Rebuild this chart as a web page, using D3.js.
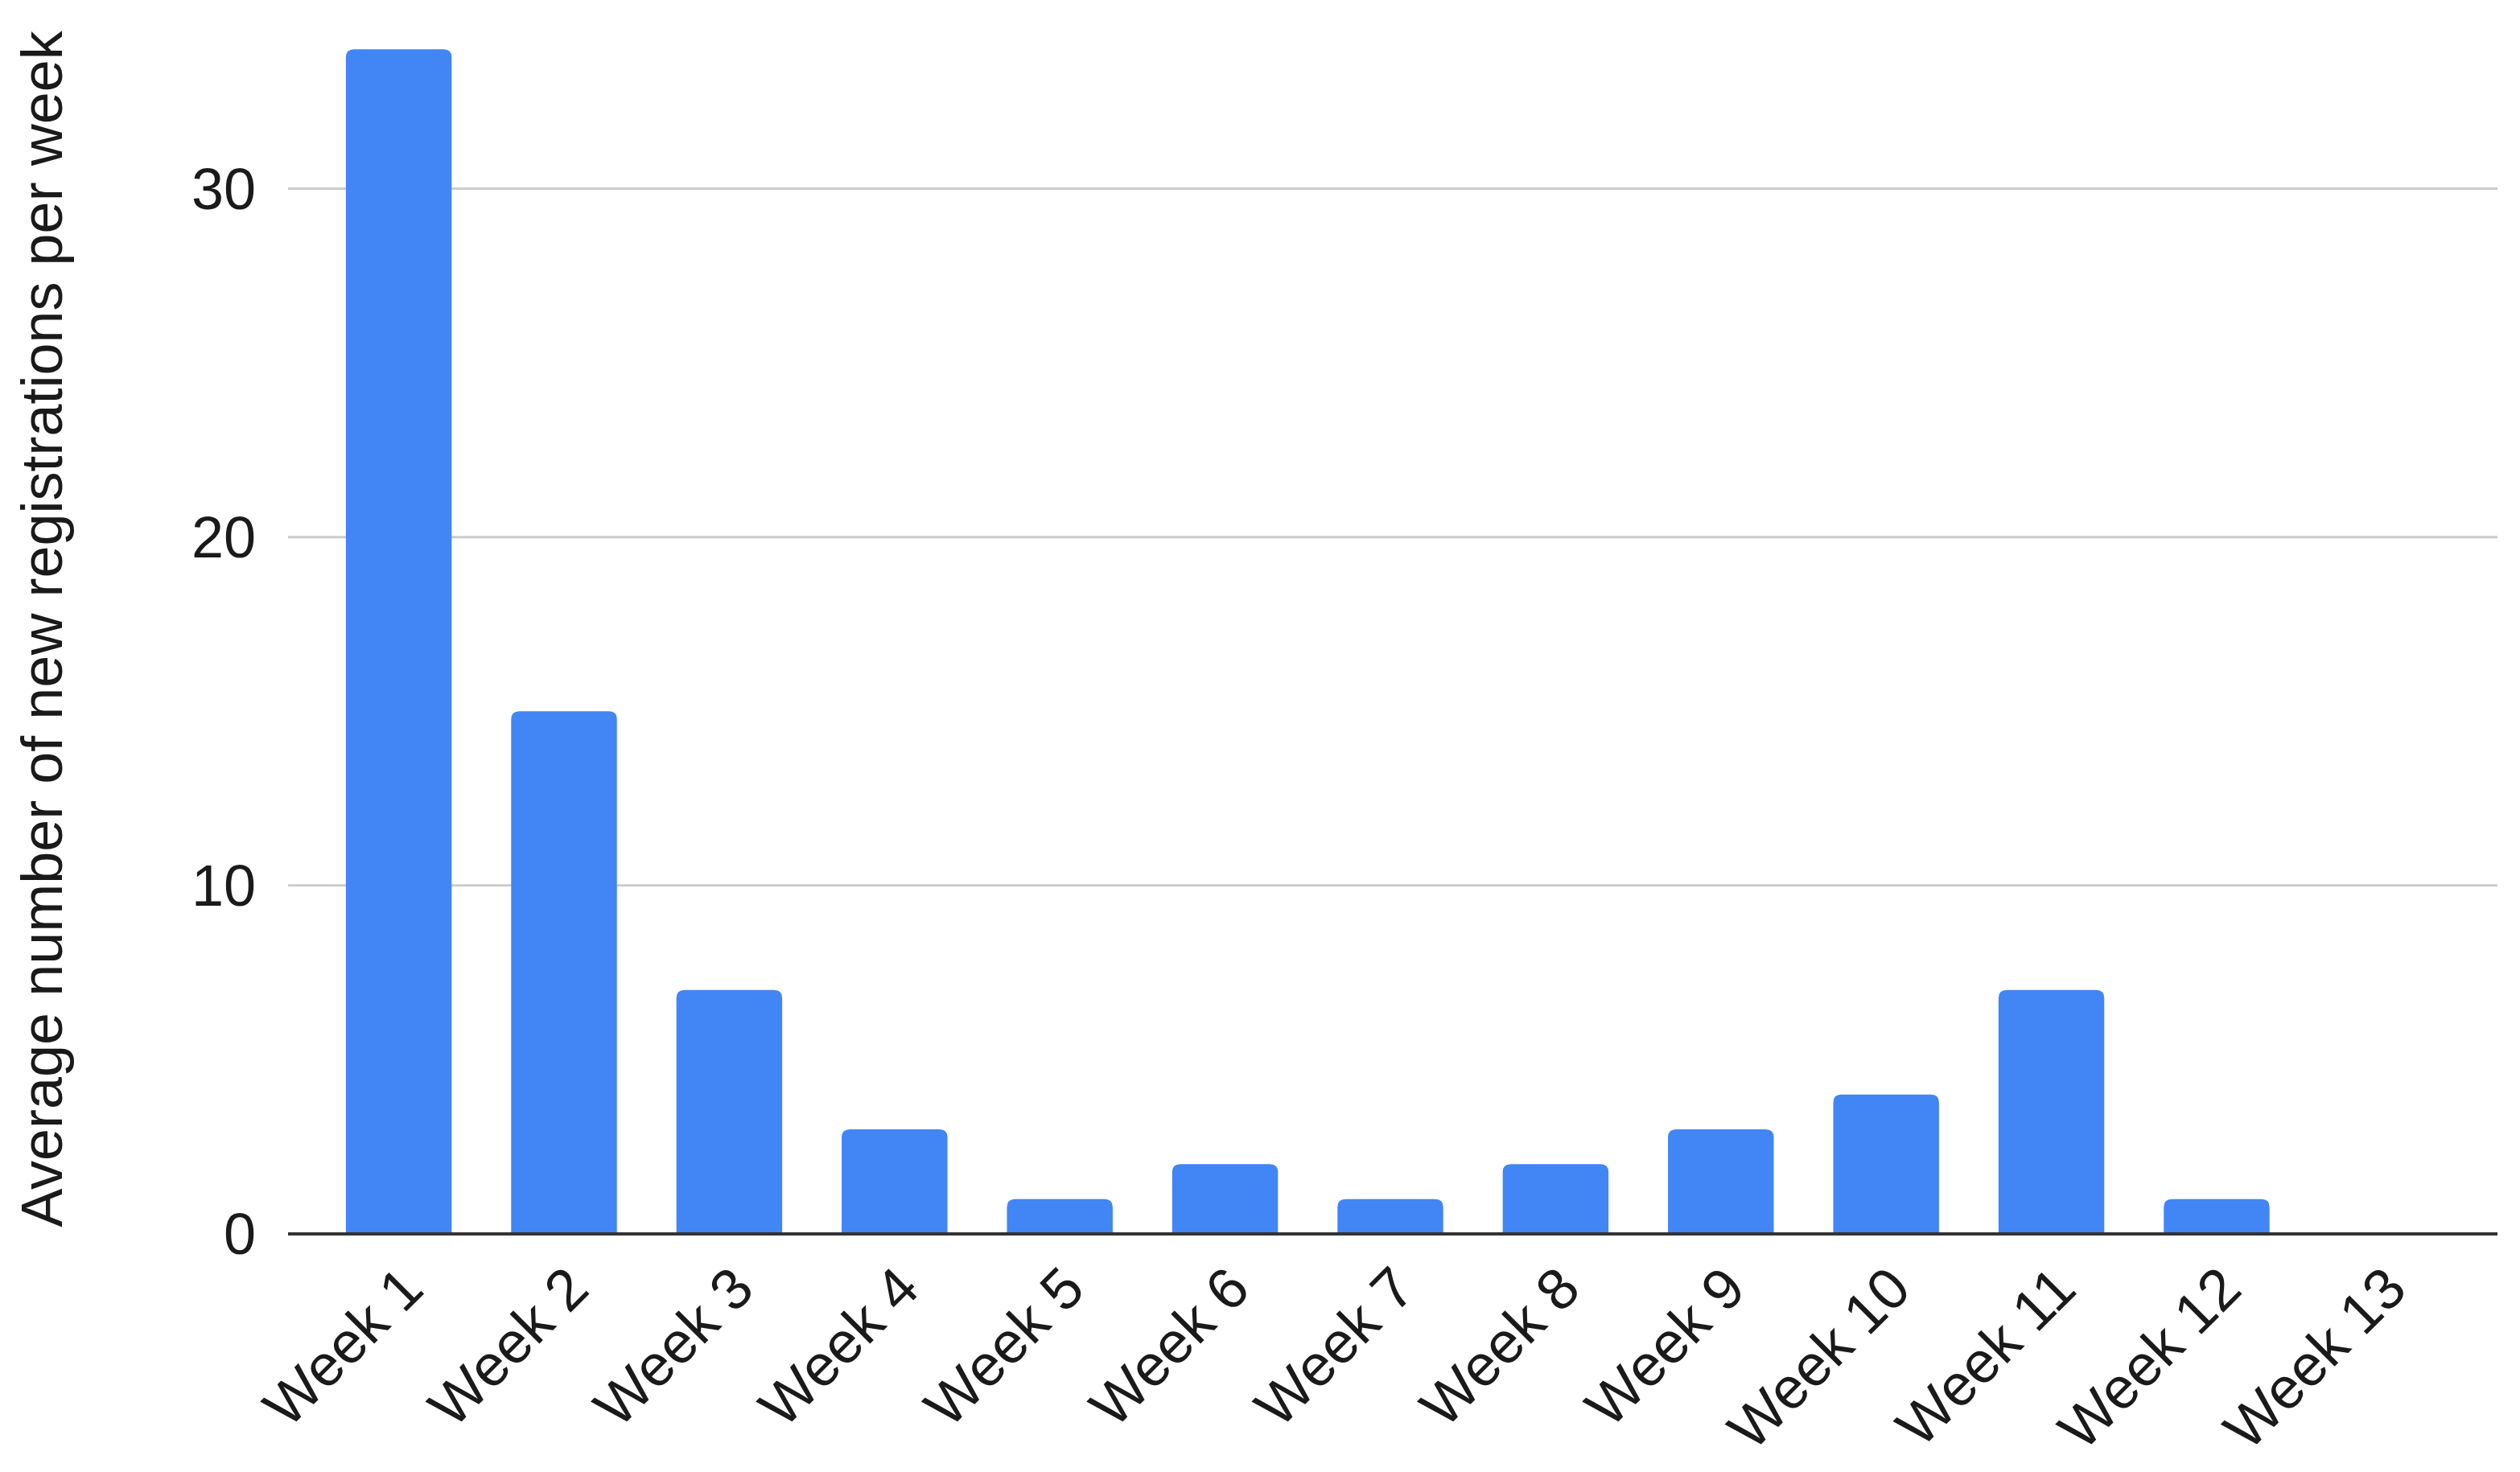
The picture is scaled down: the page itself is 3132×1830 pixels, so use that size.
<!DOCTYPE html>
<html>
<head>
<meta charset="utf-8">
<script src="https://cdn.jsdelivr.net/npm/d3@7"></script>
<style>
  html, body { margin: 0; padding: 0; background: #fff; }
  svg { display: block; }
  text { font-family: "Liberation Sans", Arial, sans-serif; fill: #1a1a1a; }
</style>
</head>
<body>
<div id="chart"></div>
<script>
// Chart data
const weeks = ["Week 1", "Week 2", "Week 3", "Week 4", "Week 5", "Week 6", "Week 7",
  "Week 8", "Week 9", "Week 10", "Week 11", "Week 12", "Week 13"];
const registrations = [34, 15, 7, 3, 1, 2, 1, 2, 3, 4, 7, 1, 0];
const yTicks = [0, 10, 20, 30];
const yTitle = "Average number of new registrations per week";

// Dimensions
const width = 3132;
const height = 1830;
const margin = { top: 18, right: 28, bottom: 296, left: 358 };

const svg = d3.select("#chart")
  .append("svg")
  .attr("width", width)
  .attr("height", height);

// Scales
const x = d3.scaleBand()
  .domain(weeks)
  .range([margin.left, width - margin.right - 6])
  .paddingInner(0.36)
  .paddingOuter(0.35);

const y = d3.scaleLinear()
  .domain([0, 35])
  .range([height - margin.bottom, margin.top]);

// Gridlines
svg.append("g")
  .selectAll("line")
  .data(yTicks.filter(d => d !== 0))
  .enter()
  .append("line")
  .attr("x1", margin.left)
  .attr("x2", width - margin.right)
  .attr("y1", d => y(d))
  .attr("y2", d => y(d))
  .attr("stroke", "#cccccc")
  .attr("stroke-width", 3);

// Y axis labels
svg.append("g")
  .selectAll("text")
  .data(yTicks)
  .enter()
  .append("text")
  .attr("x", margin.left - 40)
  .attr("y", d => y(d))
  .attr("dy", "0.35em")
  .attr("text-anchor", "end")
  .attr("font-size", 72)
  .text(d => d);

// Bars with rounded top corners
const r = 10;
svg.append("g")
  .selectAll("path")
  .data(weeks.map((w, i) => ({ week: w, value: registrations[i] })).filter(d => d.value > 0))
  .enter()
  .append("path")
  .attr("fill", "#4285f4")
  .attr("d", d => {
    const x0 = x(d.week), x1 = x0 + x.bandwidth();
    const y0 = y(0), y1 = y(d.value);
    const rr = Math.min(r, (y0 - y1) / 2);
    return `M${x0},${y0}V${y1 + rr}Q${x0},${y1} ${x0 + rr},${y1}H${x1 - rr}Q${x1},${y1} ${x1},${y1 + rr}V${y0}Z`;
  });

// Baseline
svg.append("line")
  .attr("x1", margin.left)
  .attr("x2", width - margin.right)
  .attr("y1", y(0))
  .attr("y2", y(0))
  .attr("stroke", "#333")
  .attr("stroke-width", 4);

// X axis labels, rotated
svg.append("g")
  .selectAll("text")
  .data(weeks)
  .enter()
  .append("text")
  .attr("text-anchor", "end")
  .attr("font-size", 72)
  .attr("transform", d => `translate(${x(d) + x.bandwidth() / 2 + 34},${y(0) + 72}) rotate(-45)`)
  .text(d => d);

// Y axis title
svg.append("text")
  .attr("transform", `translate(77,${(y(0) + 30) / 2}) rotate(-90)`)
  .attr("text-anchor", "middle")
  .attr("font-size", 72)
  .text(yTitle);
</script>
</body>
</html>
